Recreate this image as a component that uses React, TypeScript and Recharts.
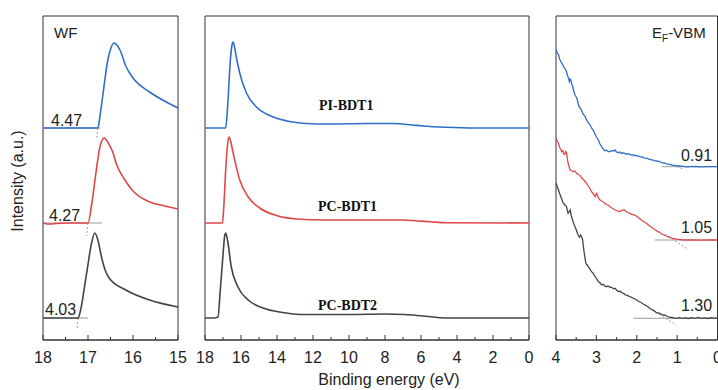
import React from "react";
import { LineChart, Line, XAxis, YAxis, ReferenceArea } from "recharts";

// --- work function panel (18 -> 15 eV) ---
const wfTicks = [18, 17.5, 17, 16.5, 16, 15.5, 15];
const wfMajor = [18, 17, 16, 15];
const wfBlue = [
  [18, 212], [17.5, 212], [17, 212], [16.78, 212], [16.74, 222], [16.67, 245], [16.56, 280], [16.49, 292],
  [16.42, 297], [16.36, 295], [16.29, 290], [16.15, 273], [16, 262], [15.63, 248], [15.26, 238], [15, 232],
];
const wfRed = [
  [18, 117], [17.9, 116], [17.5, 117], [17, 117], [16.92, 135], [16.83, 165], [16.74, 192], [16.67, 201],
  [16.64, 202], [16.55, 197], [16.45, 188], [16.37, 176], [16.18, 160], [16, 149], [15.63, 138], [15.3, 134], [15, 131],
];
const wfBlack = [
  [18, 22], [17.5, 22], [17.22, 22], [17.18, 27], [17.03, 67], [16.92, 97], [16.85, 107], [16.78, 100],
  [16.71, 85], [16.62, 70], [16.53, 62], [16.16, 50], [15.63, 40], [15, 33],
];
const wfFits = [
  { solid: [[18, 212], [16.72, 212]], dash: [[16.78, 212], [16.81, 200]] },
  { solid: [[18, 117], [16.69, 117]], dash: [[17.0, 117], [17.03, 104]] },
  { solid: [[18, 22], [17.0, 22]], dash: [[17.22, 22], [17.24, 12]] },
];

// --- full spectrum panel (18 -> 0 eV) ---
const fullTicks = [18, 17, 16, 15, 14, 13, 12, 11, 10, 9, 8, 7, 6, 5, 4, 3, 2, 1, 0];
const fullMajor = [18, 16, 14, 12, 10, 8, 6, 4, 2, 0];
const fullBlue = [
  [18, 212], [17.2, 212], [16.85, 212], [16.72, 240], [16.59, 280], [16.5, 295], [16.44, 298], [16.36, 293],
  [16.26, 283], [16.07, 267], [15.7, 247], [15.14, 233], [14.2, 223], [13.3, 218.5], [12.4, 216.5], [11, 216],
  [9, 216.5], [7.5, 216.5], [6.5, 215], [5.9, 214], [4.6, 212.7], [3, 212], [0, 212],
];
const fullRed = [
  [18, 117], [17.03, 117], [16.95, 135], [16.85, 170], [16.75, 195], [16.67, 203], [16.55, 197], [16.45, 188],
  [16.35, 180], [16.07, 160], [15.6, 143], [14.96, 132], [14.03, 124.5], [12.9, 121], [11.5, 120], [9, 120],
  [7, 120], [6.2, 119], [5.5, 118.3], [4.6, 117.3], [0, 117],
];
const fullBlack = [
  [18, 22], [17.5, 22], [17.28, 23], [17.15, 50], [17, 85], [16.9, 105], [16.85, 107], [16.75, 100],
  [16.54, 73], [16.17, 53], [15.6, 40], [14.78, 32], [13.67, 27.5], [12.74, 25.5], [10, 25.5], [8, 26],
  [6.9, 25.5], [5.9, 24], [4.6, 22], [0, 22],
];

// --- valence band panel (4 -> 0 eV) ---
const vbTicks = [4, 3.5, 3, 2.5, 2, 1.5, 1, 0.5, 0];
const vbMajor = [4, 3, 2, 1, 0];
const vbBlue = [
  [4, 290.7], [3.97, 287], [3.94, 285.5], [3.91, 281], [3.88, 278.3], [3.85, 276.5], [3.83, 275], [3.8, 272.5],
  [3.77, 271], [3.74, 268.3], [3.71, 264], [3.69, 262], [3.67, 258.3], [3.65, 261], [3.63, 260], [3.61, 256],
  [3.59, 254], [3.56, 249], [3.53, 245], [3.5, 243], [3.47, 240], [3.45, 236], [3.42, 232.7], [3.4, 232],
  [3.37, 230], [3.33, 226], [3.28, 223.3], [3.24, 220], [3.2, 217.3], [3.16, 215.5], [3.12, 212], [3.08, 210],
  [3.04, 206.5], [3, 203], [2.95, 200], [2.91, 196], [2.87, 193.3], [2.83, 191], [2.79, 189.3], [2.75, 189.8],
  [2.71, 188.5], [2.66, 188.3], [2.62, 189.5], [2.58, 188.7], [2.54, 190], [2.5, 188], [2.46, 187.3], [2.42, 188],
  [2.38, 186.5], [2.34, 187.2], [2.3, 186.7], [2.25, 185.8], [2.2, 186.3], [2.15, 185.2], [2.09, 185], [2.04, 184.5],
  [1.98, 184.2], [1.93, 183.3], [1.87, 183], [1.8, 181.8], [1.74, 181.7], [1.68, 180.7], [1.62, 180.2], [1.56, 179.4],
  [1.5, 179], [1.44, 178.3], [1.38, 177.3], [1.32, 177], [1.26, 176.2], [1.19, 175.7], [1.12, 174.8], [1.06, 174.6],
  [1, 174.2], [0.94, 174], [0.85, 173.6], [0.77, 173.2], [0.69, 173.3], [0.55, 173.5], [0.4, 173.2], [0.25, 173.4],
  [0.1, 173.3], [0, 173.3],
];
const vbRed = [
  [4, 201.7], [3.97, 199], [3.94, 196.7], [3.92, 194], [3.9, 191.7], [3.88, 190.5], [3.86, 188.3], [3.83, 189.5],
  [3.81, 186], [3.78, 185.7], [3.76, 188.5], [3.74, 187.3], [3.72, 182], [3.7, 176.7], [3.68, 174], [3.65, 170],
  [3.62, 169.5], [3.57, 168.3], [3.53, 168.8], [3.49, 166.7], [3.45, 165.5], [3.41, 164.8], [3.36, 161.7], [3.32, 160.5],
  [3.28, 158.5], [3.24, 156.7], [3.2, 154], [3.16, 151.5], [3.12, 148.3], [3.07, 146], [3.03, 143.3], [3.01, 145.5],
  [2.99, 146.7], [2.95, 142], [2.91, 140], [2.87, 139], [2.83, 138.3], [2.79, 136.7], [2.75, 135.5], [2.7, 134.8],
  [2.66, 133.3], [2.62, 132], [2.58, 131.5], [2.54, 130], [2.5, 129.5], [2.46, 128.8], [2.42, 128.3], [2.38, 129.5],
  [2.34, 130.2], [2.3, 130], [2.26, 128.5], [2.22, 127.5], [2.17, 126.7], [2.12, 125.6], [2.07, 125.2], [2.01, 124],
  [1.95, 122.3], [1.89, 120], [1.83, 118.5], [1.76, 116.7], [1.7, 114.5], [1.65, 113.3], [1.6, 111.7], [1.53, 109.8],
  [1.48, 108.6], [1.44, 107.7], [1.38, 106], [1.32, 105], [1.27, 104], [1.2, 102.8], [1.16, 102.3], [1.11, 101.7],
  [1.05, 101.2], [1, 100.8], [0.95, 100.7], [0.88, 100.2], [0.78, 100], [0.6, 100.2], [0.4, 99.9], [0.2, 100.1], [0, 100],
];
const vbBlack = [
  [4, 157.3], [3.97, 153.5], [3.94, 150], [3.91, 146.5], [3.88, 143.3], [3.85, 140], [3.82, 136.7], [3.8, 136],
  [3.78, 135], [3.76, 134.5], [3.74, 133.3], [3.72, 129.5], [3.7, 126.7], [3.67, 128.5], [3.65, 130], [3.62, 124],
  [3.59, 120], [3.56, 116.5], [3.53, 113.3], [3.5, 110.5], [3.47, 106.7], [3.44, 104], [3.42, 102.7], [3.39, 105],
  [3.36, 102.5], [3.34, 100], [3.32, 93], [3.3, 86.7], [3.28, 81.5], [3.26, 76.7], [3.23, 75], [3.2, 73.3],
  [3.16, 71], [3.12, 68.3], [3.08, 66.8], [3.03, 63.3], [2.99, 61], [2.95, 58.3], [2.91, 57.2], [2.87, 55],
  [2.83, 55.8], [2.79, 54], [2.75, 53.3], [2.71, 54], [2.66, 52.7], [2.62, 52.7], [2.58, 51.2], [2.54, 51.8],
  [2.5, 50], [2.45, 48.5], [2.41, 48.8], [2.37, 47.2], [2.33, 46.7], [2.28, 45.2], [2.24, 44.8], [2.2, 43.9],
  [2.17, 43.3], [2.12, 42.5], [2.08, 41.5], [2.04, 41], [2, 40], [1.95, 38.5], [1.89, 37.5], [1.84, 36],
  [1.79, 34.8], [1.74, 33.8], [1.68, 31.7], [1.63, 30.5], [1.58, 29.6], [1.51, 27.3], [1.46, 27], [1.4, 25.8],
  [1.35, 25], [1.3, 24.8], [1.24, 23.5], [1.18, 22.7], [1.12, 22.5], [1.06, 21.9], [1.02, 21.7], [0.95, 22.4],
  [0.88, 21.6], [0.8, 22.1], [0.72, 21.5], [0.64, 22.3], [0.56, 21.7], [0.48, 22.6], [0.4, 21.6], [0.32, 22.2],
  [0.24, 21.5], [0.16, 22.4], [0.08, 21.8], [0, 22],
];
const vbFits = [
  { solid: [[1.38, 173.3], [0, 173.3]], dash: [[1.1, 175], [0.85, 171]] },
  { solid: [[1.55, 100], [0, 100]], dash: [[1.3, 106], [0.77, 91.7]] },
  { solid: [[2.08, 21.7], [0, 21.7]], dash: [[1.7, 32], [1.02, 15]] },
];

const BLUE = "#2f6fc8";
const RED = "#e04848";
const BLACK = "#444444";
const FIT = "#9a9a9a";
const SANS = "'Liberation Sans', Arial, sans-serif";

const toPts = (arr: number[][]) => arr.map(([e, v]) => ({ e, v }));

function makeTick(majors: number[]) {
  return (props: any) => {
    const { x, y, payload } = props;
    const major = majors.includes(payload.value);
    return (
      <g>
        <line x1={x} x2={x} y1={y} y2={y - (major ? 5 : 3)} stroke="#333" strokeWidth={1} />
        {major && (
          <text x={x} y={y + 23} textAnchor="middle" fontSize={16} fill="#222" fontFamily={SANS}>
            {payload.value}
          </text>
        )}
      </g>
    );
  };
}

type PanelProps = {
  left: number;
  width: number;
  mLeft: number;
  mRight: number;
  domain: [number, number];
  ticks: number[];
  majors: number[];
  series: { pts: number[][]; color: string }[];
  fits: { solid: number[][]; dash: number[][] }[];
  curve: "monotone" | "linear";
};

function Panel({ left, width, mLeft, mRight, domain, ticks, majors, series, fits, curve }: PanelProps) {
  return (
    <div style={{ position: "absolute", left, top: 0 }}>
      <LineChart width={width} height={390} margin={{ top: 16, right: mRight, bottom: 20, left: mLeft }}>
        <XAxis
          type="number"
          dataKey="e"
          domain={domain}
          reversed
          allowDataOverflow
          ticks={ticks}
          interval={0}
          tickSize={0}
          tickMargin={0}
          tickLine={false}
          axisLine={{ stroke: "#333" }}
          tick={makeTick(majors)}
          height={30}
        />
        <YAxis hide type="number" domain={[0, 324]} allowDataOverflow />
        <ReferenceArea x1={domain[0]} x2={domain[1]} y1={0} y2={324} fill="none" stroke="#333" strokeWidth={1} />
        {fits.map((f, i) => (
          <Line key={`fs${i}`} data={toPts(f.solid)} dataKey="v" type="linear" stroke={FIT} strokeWidth={1} dot={false} isAnimationActive={false} />
        ))}
        {fits.map((f, i) => (
          <Line key={`fd${i}`} data={toPts(f.dash)} dataKey="v" type="linear" stroke={FIT} strokeWidth={1} strokeDasharray="2 2" dot={false} isAnimationActive={false} />
        ))}
        {series.map((s, i) => (
          <Line key={`s${i}`} data={toPts(s.pts)} dataKey="v" type={curve} stroke={s.color} strokeWidth={curve === "linear" ? 1.3 : 1.6} dot={false} isAnimationActive={false} />
        ))}
      </LineChart>
    </div>
  );
}

export default function App() {
  return (
    <div style={{ position: "absolute", left: 0, top: 0, width: 718, height: 390, overflow: "hidden", background: "#fff" }}>
      <Panel
        left={0}
        width={190}
        mLeft={43}
        mRight={12}
        domain={[15, 18]}
        ticks={wfTicks}
        majors={wfMajor}
        series={[{ pts: wfBlue, color: BLUE }, { pts: wfRed, color: RED }, { pts: wfBlack, color: BLACK }]}
        fits={wfFits}
        curve="monotone"
      />
      <Panel
        left={190}
        width={350}
        mLeft={15}
        mRight={11}
        domain={[0, 18]}
        ticks={fullTicks}
        majors={fullMajor}
        series={[{ pts: fullBlue, color: BLUE }, { pts: fullRed, color: RED }, { pts: fullBlack, color: BLACK }]}
        fits={[]}
        curve="monotone"
      />
      <Panel
        left={545}
        width={185}
        mLeft={11}
        mRight={12.5}
        domain={[0, 4]}
        ticks={vbTicks}
        majors={vbMajor}
        series={[{ pts: vbBlue, color: BLUE }, { pts: vbRed, color: RED }, { pts: vbBlack, color: BLACK }]}
        fits={vbFits}
        curve="linear"
      />
      <svg width={718} height={390} style={{ position: "absolute", left: 0, top: 0, pointerEvents: "none" }}>
        <g fontFamily={SANS} fill="#222" fontSize={16}>
          <text x={54} y={38} fontSize={15}>WF</text>
          <text x={51} y={126}>4.47</text>
          <text x={49} y={221}>4.27</text>
          <text x={45} y={315}>4.03</text>
          <text x={681} y={161}>0.91</text>
          <text x={681} y={233}>1.05</text>
          <text x={681} y={311}>1.30</text>
          <text x={652} y={38} fontSize={15}>
            E<tspan fontSize={10} dy={4}>F</tspan>
            <tspan dy={-4}>-VBM</tspan>
          </text>
          <text x={389} y={385} textAnchor="middle">Binding energy (eV)</text>
          <text x={23} y={181} textAnchor="middle" transform="rotate(-90 23 181)">Intensity (a.u.)</text>
        </g>
        <g fontFamily="'Liberation Serif', 'Times New Roman', serif" fontWeight="bold" fontSize={14} fill="#111">
          <text x={319} y={110}>PI-BDT1</text>
          <text x={318} y={211}>PC-BDT1</text>
          <text x={318} y={310}>PC-BDT2</text>
        </g>
      </svg>
    </div>
  );
}
